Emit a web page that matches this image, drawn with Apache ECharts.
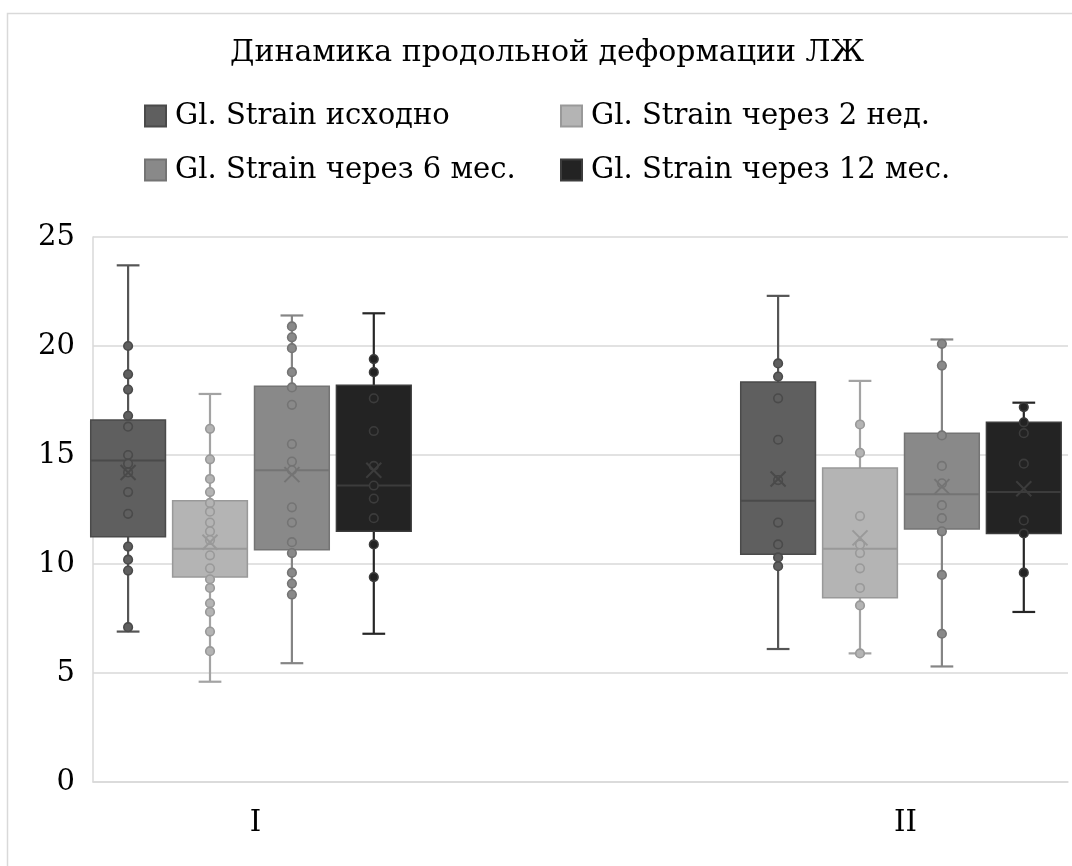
<!DOCTYPE html>
<html>
<head>
<meta charset="utf-8">
<script src="https://cdn.jsdelivr.net/npm/echarts@6/dist/echarts.min.js"></script>
<style>
html,body{margin:0;padding:0;background:#fff;}
#chart{width:1072px;height:866px;}
</style>
</head>
<body>
<div id="chart"></div>
<script>
// ---- Data ----
const titleText = 'Динамика продольной деформации ЛЖ';
const categories = ['I', 'II'];
const seriesNames = ['Gl. Strain исходно', 'Gl. Strain через 2 нед.', 'Gl. Strain через 6 мес.', 'Gl. Strain через 12 мес.'];
const yTicks = [0, 5, 10, 15, 20, 25];

// box stats per group: [min, q1, median, q3, max, mean]
const statsBaseline = [[6.9, 11.25, 14.75, 16.6, 23.7, 14.2], [6.1, 10.45, 12.9, 18.35, 22.3, 13.9]];
const stats2w = [[4.6, 9.4, 10.7, 12.9, 17.8, 11.0], [5.9, 8.45, 10.7, 14.4, 18.4, 11.2]];
const stats6m = [[5.45, 10.65, 14.3, 18.15, 21.4, 14.1], [5.3, 11.6, 13.2, 16.0, 20.3, 13.55]];
const stats12m = [[6.8, 11.5, 13.6, 18.2, 21.5, 14.3], [7.8, 11.4, 13.3, 16.5, 17.4, 13.45]];

// individual points per group
const pointsBaselineI = [20.0, 18.7, 18.0, 16.8, 16.3, 15.0, 14.6, 14.2, 13.3, 12.3, 10.8, 10.2, 9.7, 7.1];
const pointsBaselineII = [19.2, 18.6, 17.6, 15.7, 13.85, 11.9, 10.9, 10.3, 9.9];
const points2wI = [16.2, 14.8, 13.9, 13.3, 12.8, 12.4, 11.9, 11.5, 11.1, 10.4, 9.8, 9.3, 8.9, 8.2, 7.8, 6.9, 6.0];
const points2wII = [16.4, 15.1, 12.2, 10.9, 10.5, 9.8, 8.9, 8.1, 5.9];
const points6mI = [20.9, 20.4, 19.9, 18.8, 18.1, 17.3, 15.5, 14.7, 14.3, 12.6, 11.9, 11.0, 10.5, 9.6, 9.1, 8.6];
const points6mII = [20.1, 19.1, 15.9, 14.5, 13.7, 12.7, 12.1, 11.5, 9.5, 6.8];
const points12mI = [19.4, 18.8, 17.6, 16.1, 14.5, 13.6, 13.0, 12.1, 10.9, 9.4];
const points12mII = [17.2, 16.5, 16.0, 14.6, 12.0, 11.4, 9.6];

// ---- Styling / layout ----
const allStats = [statsBaseline, stats2w, stats6m, stats12m];
const allPoints = [[pointsBaselineI, pointsBaselineII], [points2wI, points2wII], [points6mI, points6mII], [points12mI, points12mII]];
const fills = ['#5f5f5f', '#b4b4b4', '#898989', '#232323'];
const strokes = ['#4a4a4a', '#999999', '#747474', '#3c3c3c'];
const whiskerColors = ['#555555', '#a3a3a3', '#858585', '#262626'];
const offsets = [-0.196, -0.07, 0.056, 0.182];
const boxWidth = 0.115;
const capWidth = 0.035;
const FONT = '"DejaVu Serif", "Liberation Serif", serif';

function makeRender(si) {
  return function (params, api) {
    const cx = api.value(0) + offsets[si];
    const hw = api.size([boxWidth, 0])[0] / 2;
    const ch = api.size([capWidth, 0])[0] / 2;
    const pMin = api.coord([cx, api.value(1)]);
    const pQ1 = api.coord([cx, api.value(2)]);
    const pMed = api.coord([cx, api.value(3)]);
    const pQ3 = api.coord([cx, api.value(4)]);
    const pMax = api.coord([cx, api.value(5)]);
    const pMean = api.coord([cx, api.value(6)]);
    const x = pMed[0];
    const wStyle = {stroke: whiskerColors[si], lineWidth: 2.2, fill: null};
    const children = [
      {type: 'line', shape: {x1: x, y1: pQ3[1], x2: x, y2: pMax[1]}, style: wStyle},
      {type: 'line', shape: {x1: x, y1: pQ1[1], x2: x, y2: pMin[1]}, style: wStyle},
      {type: 'line', shape: {x1: x - ch, y1: pMax[1], x2: x + ch, y2: pMax[1]}, style: wStyle},
      {type: 'line', shape: {x1: x - ch, y1: pMin[1], x2: x + ch, y2: pMin[1]}, style: wStyle},
      {type: 'rect', shape: {x: x - hw, y: pQ3[1], width: hw * 2, height: pQ1[1] - pQ3[1]},
        style: {fill: fills[si], stroke: strokes[si], lineWidth: 1.5}},
      {type: 'line', shape: {x1: x - hw, y1: pMed[1], x2: x + hw, y2: pMed[1]},
        style: {stroke: strokes[si], lineWidth: 2}}
    ];
    const pts = allPoints[si][params.dataIndex];
    pts.forEach(function (v) {
      const p = api.coord([cx, v]);
      children.push({type: 'circle', shape: {cx: x, cy: p[1], r: 4.3},
        style: {fill: fills[si], stroke: strokes[si], lineWidth: 1.6}});
    });
    const m = 7.5;
    children.push({type: 'line', shape: {x1: x - m, y1: pMean[1] - m, x2: x + m, y2: pMean[1] + m},
      style: {stroke: strokes[si], lineWidth: 2}});
    children.push({type: 'line', shape: {x1: x - m, y1: pMean[1] + m, x2: x + m, y2: pMean[1] - m},
      style: {stroke: strokes[si], lineWidth: 2}});
    return {type: 'group', children: children};
  };
}

const series = seriesNames.map(function (name, si) {
  return {
    type: 'custom',
    name: name,
    renderItem: makeRender(si),
    encode: {x: 0, y: [1, 2, 3, 4, 5]},
    itemStyle: {color: fills[si], borderColor: strokes[si], borderWidth: 1},
    data: allStats[si].map(function (s, gi) {
      return [gi + 1, s[0], s[1], s[2], s[3], s[4], s[5]];
    }),
    z: 2 + si
  };
});

const legendCommon = {
  orient: 'vertical',
  top: 101,
  padding: 0,
  itemWidth: 21,
  itemHeight: 21,
  itemGap: 24,
  icon: 'rect',
  selectedMode: false,
  textStyle: {fontFamily: FONT, fontSize: 29, color: '#000', lineHeight: 30, padding: [0, 0, 0, 4]}
};

const chart = echarts.init(document.getElementById('chart'), null, {renderer: 'canvas'});
chart.setOption({
  backgroundColor: '#ffffff',
  animation: false,
  title: {
    text: titleText,
    left: 230,
    top: 38,
    padding: 0,
    textStyle: {fontFamily: FONT, fontSize: 30, fontWeight: 'normal', color: '#000'}
  },
  legend: [
    Object.assign({}, legendCommon, {left: 144, data: [seriesNames[0], seriesNames[2]]}),
    Object.assign({}, legendCommon, {left: 560, data: [seriesNames[1], seriesNames[3]]})
  ],
  graphic: [{
    type: 'rect', silent: true, z: -10,
    shape: {x: 7.5, y: 13.5, width: 1200, height: 1000},
    style: {fill: null, stroke: '#d9d9d9', lineWidth: 1.5}
  }],
  grid: {left: 93, right: 4, top: 237, bottom: 84, containLabel: false},
  xAxis: {
    type: 'value',
    min: 0.75,
    max: 2.25,
    interval: 0.25,
    splitLine: {show: false},
    axisTick: {show: false},
    axisLine: {show: true, lineStyle: {color: '#d9d9d9', width: 1.5}},
    axisLabel: {
      margin: 27,
      fontFamily: FONT, fontSize: 29, color: '#000',
      showMinLabel: false, showMaxLabel: false,
      formatter: function (v) {
        const i = Math.round(v) - 1;
        return Math.abs(v - Math.round(v)) < 1e-6 && categories[i] ? categories[i] : '';
      }
    }
  },
  yAxis: {
    type: 'value',
    min: yTicks[0],
    max: yTicks[yTicks.length - 1],
    interval: 5,
    axisLine: {show: true, lineStyle: {color: '#d9d9d9', width: 1.5}},
    axisTick: {show: false},
    splitLine: {show: true, lineStyle: {color: '#d9d9d9', width: 1.5}},
    axisLabel: {margin: 18, fontFamily: FONT, fontSize: 29, color: '#000'}
  },
  series: series
});
</script>
</body>
</html>
